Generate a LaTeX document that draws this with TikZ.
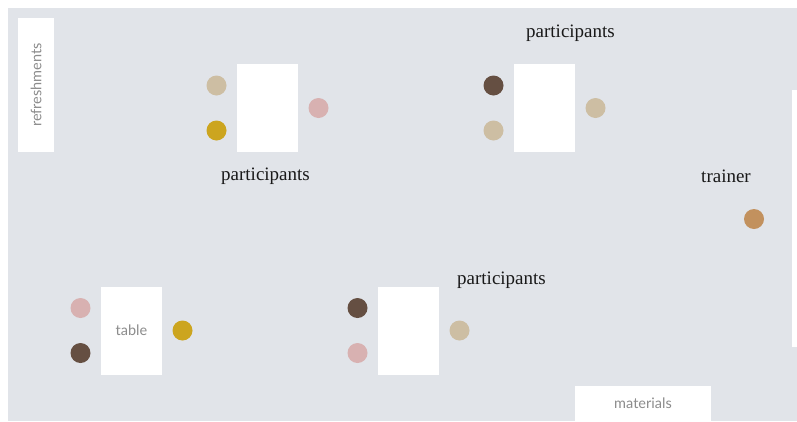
\documentclass[tikz,border=0pt]{standalone}
\usepackage{fontspec}
\setmainfont{Liberation Serif}
\newfontfamily\tagsans{Lato}
\usetikzlibrary{positioning}
\definecolor{floorgray}{HTML}{E1E4E9}
\definecolor{seatbeige}{HTML}{CDBEA3}
\definecolor{seatgold}{HTML}{CCA51F}
\definecolor{seatpink}{HTML}{D8B1B1}
\definecolor{seatbrown}{HTML}{654F42}
\definecolor{seattan}{HTML}{C2915E}
\definecolor{taggray}{HTML}{8C8C8C}
\tikzset{
  desk/.style={fill=white,minimum width=61pt,minimum height=88pt,inner sep=0pt,
    font=\tagsans\fontsize{14.5}{16}\selectfont,text=taggray},
  seat/.style={circle,fill=#1,minimum size=20pt,inner sep=0pt},
  grouptag/.style={font=\fontsize{19}{21}\selectfont,text=black!90},
  sidebox/.style={fill=white,inner sep=0pt,font=\tagsans\fontsize{14.5}{16}\selectfont,text=taggray}
}
% desk with two seats on the left and one on the right
\newcommand{\deskgroup}[6]{\begin{scope}[shift={(#2)}]
  \node[desk] (#1) at (0,0) {#6};
  \node[seat=#3] (#1-a) at (-51,-22.5) {};
  \node[seat=#4] (#1-b) at (-51,22.5) {};
  \node[seat=#5] (#1-c) at (51,0) {};\end{scope}}

\begin{document}
\begin{tikzpicture}[x=1pt,y=-1pt]
\useasboundingbox (0,0) rectangle (797,421);
\fill[floorgray] (8,8) rectangle (797,421);
% room edges
\node[sidebox,minimum width=36pt,minimum height=134pt] (refresh) at (36,85)
  {\rotatebox{90}{refreshments}};
\node[sidebox,minimum width=136pt,minimum height=35pt] (mat) at (643,403.5) {materials};
\fill[white] (792,90) rectangle (797,347);
% desks
\deskgroup{d1}{267.5,108}{seatbeige}{seatgold}{seatpink}{}
\deskgroup{d2}{544.5,108}{seatbrown}{seatbeige}{seatbeige}{}
\deskgroup{d3}{131.5,330.5}{seatpink}{seatbrown}{seatgold}{table}
\deskgroup{d4}{408.5,330.5}{seatbrown}{seatpink}{seatbeige}{}
\node[grouptag] (p1) at (265.5,176) {participants};
\node[grouptag] (p2) at (570.5,33) {participants};
\node[grouptag] (p3) at (501.5,280) {participants};
% trainer
\node[grouptag] (trn) at (726,176) {trainer};
\node[seat=seattan] (trn-s) at (754,219) {};
\end{tikzpicture}
\end{document}
